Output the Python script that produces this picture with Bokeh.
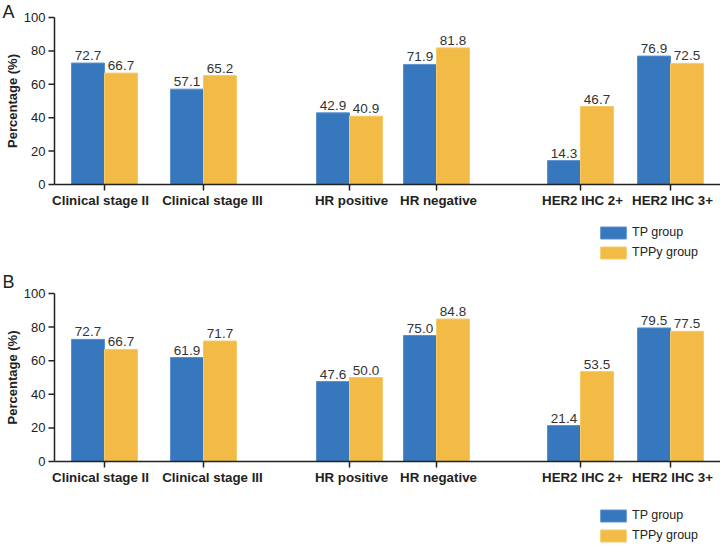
import math
from bokeh.plotting import figure
from bokeh.layouts import column
from bokeh.models import Range1d, Legend, LegendItem, ColumnDataSource
from bokeh.core.properties import value
from bokeh.embed import file_html
from bokeh.resources import INLINE

# ---- data -------------------------------------------------------------
categories = ["Clinical stage II", "Clinical stage III", "HR positive",
              "HR negative", "HER2 IHC 2+", "HER2 IHC 3+"]
series_names = ["TP group", "TPPy group"]

tp_a = [72.7, 57.1, 42.9, 71.9, 14.3, 76.9]
tppy_a = [66.7, 65.2, 40.9, 81.8, 46.7, 72.5]

tp_b = [72.7, 61.9, 47.6, 75.0, 21.4, 79.5]
tppy_b = [66.7, 71.7, 50.0, 84.8, 53.5, 77.5]

y_ticks = [0, 20, 40, 60, 80, 100]

# ---- layout -----------------------------------------------------------
# horizontal positions (px from the value axis) of the category ticks
cat_pos = [50, 149, 295, 382, 526, 616]
label_nudge = [-4, 9, 2, 2, 2, 2]        # keeps the two long labels apart
bar_w = 33
AXIS_X = 54                               # px from the left edge to the value axis
X_END = 666
BLUE, BLUE_EDGE = "#3777BE", "#5A90D0"
YELLOW, YELLOW_EDGE = "#F2BB45", "#F6CA6A"
INK = "#222222"
FONT = "Liberation Sans"


def panel(letter, tp, tppy, height, top_px, px_per_unit, legend_y):
    y_top = 100 + top_px / px_per_unit
    y_low = y_top - height / px_per_unit
    p = figure(width=720, height=height, output_backend="svg",
               toolbar_location=None, x_axis_type=None, y_axis_type=None,
               x_range=Range1d(-AXIS_X, X_END), y_range=Range1d(y_low, y_top),
               min_border=0, outline_line_color=None,
               background_fill_color="white", border_fill_color="white")
    p.grid.visible = False

    src = ColumnDataSource(dict(
        x_tp=[c - bar_w / 2 for c in cat_pos],
        x_tppy=[c + bar_w / 2 for c in cat_pos],
        tp=tp, tppy=tppy,
        tp_txt=[f"{v:.1f}" for v in tp],
        tppy_txt=[f"{v:.1f}" for v in tppy],
    ))

    r_tp = p.vbar(x="x_tp", top="tp", bottom=0, width=bar_w, source=src,
                  fill_color=BLUE, line_color=BLUE_EDGE, line_width=1)
    r_tppy = p.vbar(x="x_tppy", top="tppy", bottom=0, width=bar_w, source=src,
                    fill_color=YELLOW, line_color=YELLOW_EDGE, line_width=1)

    # value labels above the bars
    for xcol, ycol, tcol in (("x_tp", "tp", "tp_txt"), ("x_tppy", "tppy", "tppy_txt")):
        p.text(x=xcol, y=ycol, text=tcol, source=src, text_align="center",
               text_baseline="bottom", y_offset=-3,
               text_font=value(FONT), text_font_size="13.5px", text_color="#333333")

    # category axis along zero
    p.segment(x0=[0], y0=[0], x1=[X_END], y1=[0], line_color=INK, line_width=1.5)
    p.ray(x=cat_pos, y=[0] * len(cat_pos), length=6, length_units="screen",
          angle=-math.pi / 2, line_color=INK, line_width=1.5)
    cat_src = ColumnDataSource(dict(x=cat_pos, y=[0] * len(cat_pos),
                                    text=categories, dx=label_nudge))
    p.text(x="x", y="y", text="text", x_offset="dx", source=cat_src,
           text_align="center", text_baseline="top", y_offset=8,
           text_font=value(FONT), text_font_style="bold",
           text_font_size="13.3px", text_color=INK)

    # value axis: line, outward ticks, tick labels and title
    p.segment(x0=[0], y0=[y_ticks[0]], x1=[0], y1=[y_ticks[-1]],
              line_color=INK, line_width=1.5)
    p.ray(x=[0] * len(y_ticks), y=y_ticks, length=6, length_units="screen",
          angle=math.pi, line_color=INK, line_width=1.5)
    p.text(x=[0] * len(y_ticks), y=y_ticks, text=[str(t) for t in y_ticks],
           x_offset=-9, text_align="right", text_baseline="middle",
           text_font=value(FONT), text_font_size="13px", text_color=INK)
    p.text(x=[0], y=[(y_ticks[0] + y_ticks[-1]) / 2], text=["Percentage (%)"],
           x_offset=-42, angle=math.pi / 2, text_align="center",
           text_baseline="middle", text_font=value(FONT),
           text_font_style="bold", text_font_size="13px", text_color=INK)

    # panel letter in the top-left corner
    p.text(x=[-AXIS_X], y=[y_top], text=[letter], x_offset=2, y_offset=1.5,
           text_align="left", text_baseline="top", text_font=value(FONT),
           text_font_size="18px", text_color=INK)

    legend = Legend(items=[LegendItem(label=series_names[0], renderers=[r_tp]),
                           LegendItem(label=series_names[1], renderers=[r_tppy])],
                    location=(AXIS_X + 543, legend_y), glyph_width=32, glyph_height=15,
                    label_height=15, spacing=5, padding=0, margin=0,
                    label_standoff=3, border_line_color=None,
                    background_fill_alpha=0, label_text_font=FONT,
                    label_text_font_size="12.5px", label_text_color=INK)
    p.add_layout(legend, "center")
    return p


pa = panel("A", tp_a, tppy_a, 270, 17, 1.67, 10.5)
pb = panel("B", tp_b, tppy_b, 275, 23, 1.68, 2.5)

layout = column(pa, pb, spacing=0)
open("out.html", "w").write(file_html(layout, INLINE))
